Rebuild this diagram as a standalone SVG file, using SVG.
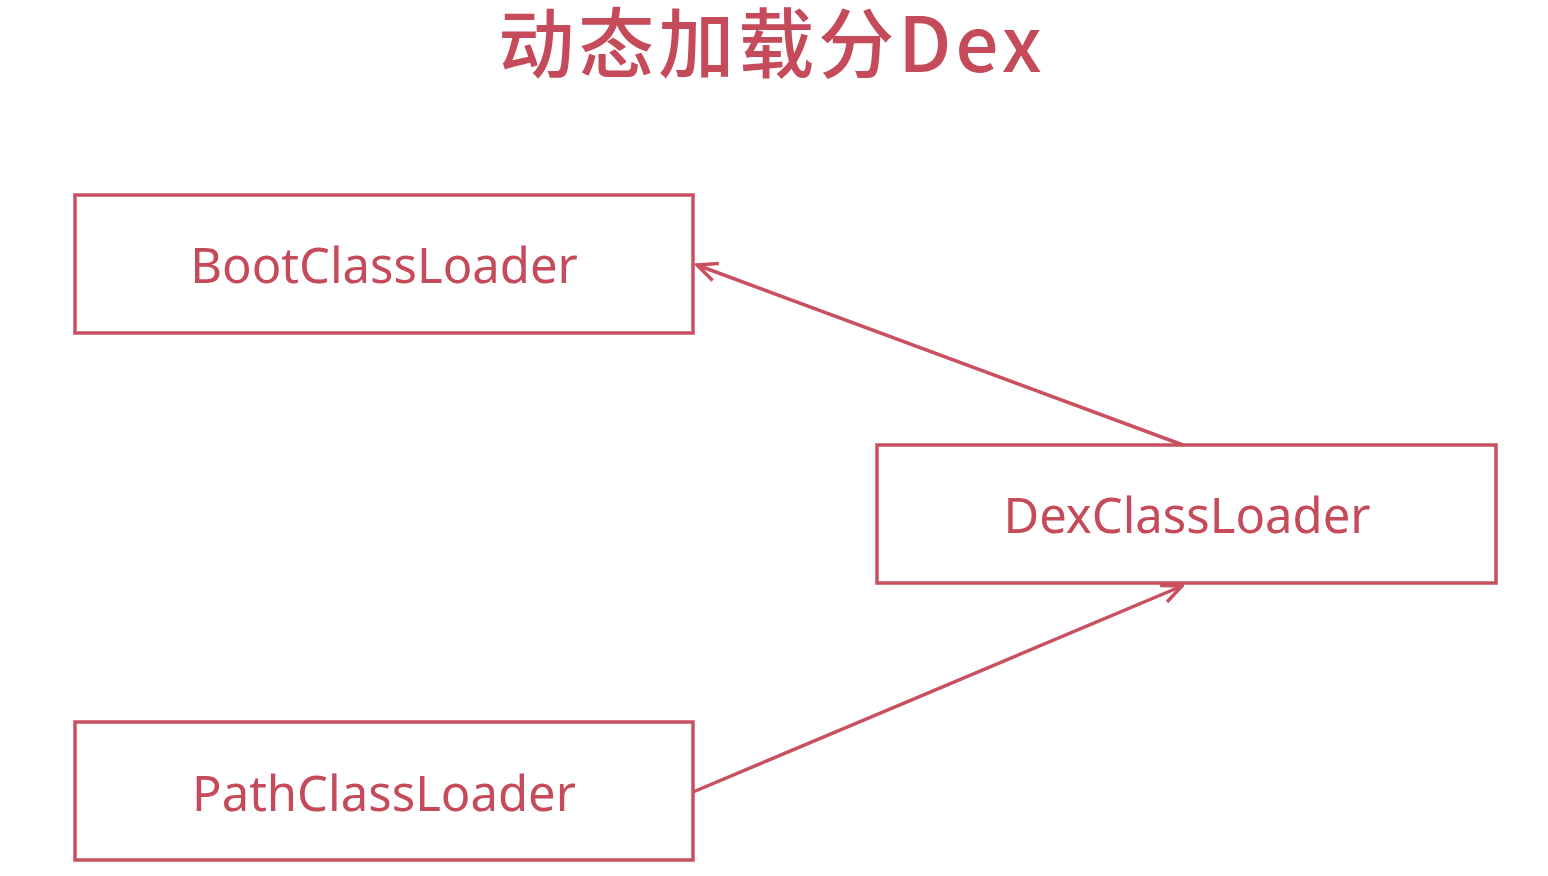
<svg xmlns="http://www.w3.org/2000/svg" width="1548" height="876" viewBox="0 0 1548 876">
<style>
.box{fill:#fff;stroke:#c9505f;stroke-width:3.5}
.lbl{font-family:"Noto Sans","Open Sans",sans-serif;font-size:49px;fill:#c54a5a;text-anchor:middle}
.title{font-family:"Noto Sans CJK SC","Noto Sans",sans-serif;font-size:76px;font-weight:500;fill:#c54a5a;text-anchor:middle;letter-spacing:4px}
.conn{stroke:#c9505f;stroke-width:3.5;fill:none}
</style>
<defs>
<marker id="arr" viewBox="0 0 24 24" refX="22" refY="12" markerWidth="24" markerHeight="24" markerUnits="userSpaceOnUse" orient="auto">
<path d="M2,3 L22,12 L2,21" fill="none" stroke="#c9505f" stroke-width="3.5"/>
</marker>
</defs>
<rect width="1548" height="876" fill="#fff"/>
<text class="title" x="772" y="72">动态加载分Dex</text>
<g id="boot"><rect class="box" x="75" y="195" width="618" height="138"/><text class="lbl" x="384" y="283">BootClassLoader</text></g>
<g id="dex"><rect class="box" x="877" y="445" width="619" height="138"/><text class="lbl" x="1187" y="533">DexClassLoader</text></g>
<g id="path"><rect class="box" x="75" y="722" width="618" height="138"/><text class="lbl" x="384" y="811">PathClassLoader</text></g>
<g id="connectors">
<line class="conn" x1="1183" y1="445" x2="697" y2="265" marker-end="url(#arr)"/>
<line class="conn" x1="693" y1="792" x2="1182" y2="586" marker-end="url(#arr)"/>
</g>
</svg>
